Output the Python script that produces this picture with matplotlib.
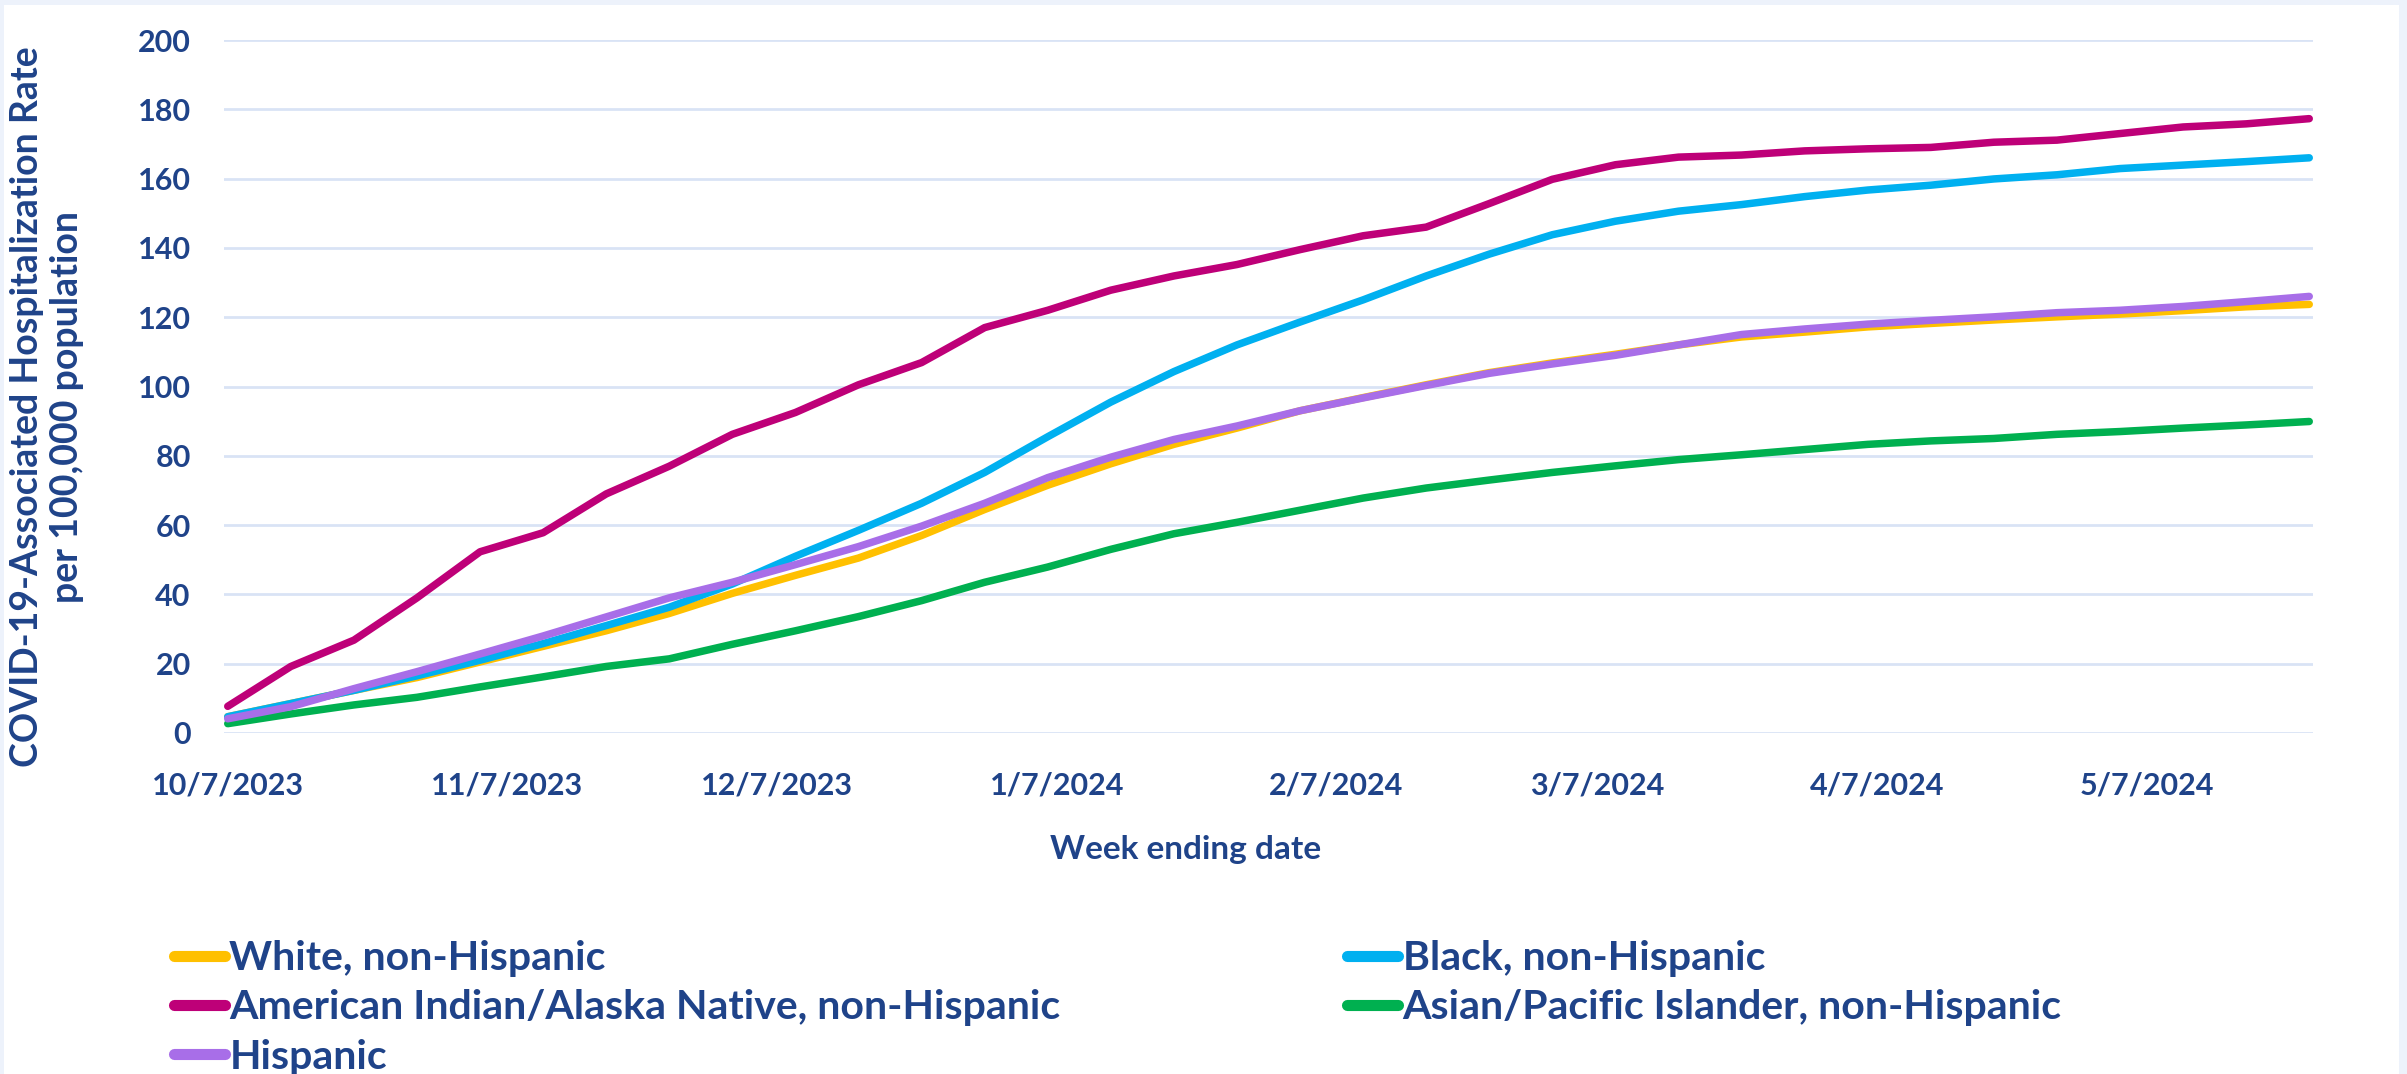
import matplotlib
matplotlib.use("Agg")
import matplotlib.pyplot as plt
import matplotlib.patches as mpatches
import pandas as pd

plt.rcParams['font.family'] = ['Lato', 'DejaVu Sans']
plt.rcParams['font.weight'] = 'bold'

start_date = "2023-10-07"
n_weeks = 34

white = [4.7, 8.5, 12.3, 16.0, 20.5, 25.0, 29.5, 34.5, 40.3, 45.5, 50.5, 57.0, 64.5, 71.5, 77.7, 83.3,
         88.0, 93.0, 96.8, 100.5, 104.0, 106.8, 109.3, 112.0, 114.3, 115.7, 117.2, 118.2, 119.2, 120.1,
         120.9, 121.9, 123.0, 123.7]
black = [4.7, 8.5, 12.3, 16.5, 21.0, 25.8, 31.0, 36.3, 43.0, 51.0, 58.5, 66.3, 75.2, 85.5, 95.5, 104.3,
         112.0, 118.6, 125.0, 131.9, 138.2, 143.8, 147.7, 150.6, 152.5, 154.8, 156.7, 158.1, 159.9, 161.1,
         162.9, 163.9, 164.9, 166.0]
aian = [7.7, 19.2, 26.8, 39.0, 52.3, 57.8, 69.0, 77.0, 86.2, 92.5, 100.5, 106.9, 117.0, 122.0, 127.8,
        131.9, 135.2, 139.5, 143.5, 146.0, 152.8, 159.8, 164.0, 166.2, 166.8, 168.0, 168.6, 169.0, 170.5,
        171.1, 173.0, 174.9, 175.8, 177.3]
api = [2.7, 5.5, 8.1, 10.3, 13.3, 16.2, 19.2, 21.4, 25.6, 29.5, 33.6, 38.2, 43.5, 47.9, 53.0, 57.5, 60.8,
       64.3, 67.8, 70.7, 73.0, 75.2, 77.1, 78.9, 80.3, 81.8, 83.3, 84.3, 85.0, 86.2, 87.0, 88.0, 88.9, 89.9]
hispanic = [4.1, 7.6, 12.8, 17.7, 22.8, 28.0, 33.5, 39.0, 43.5, 48.6, 53.8, 59.7, 66.3, 73.7, 79.6, 84.7,
            88.6, 93.0, 96.7, 100.3, 103.8, 106.5, 109.0, 112.0, 115.0, 116.6, 118.0, 119.1, 120.1, 121.3,
            122.0, 123.1, 124.5, 126.0]

series_names = ["White, non-Hispanic", "Black, non-Hispanic",
                "American Indian/Alaska Native, non-Hispanic",
                "Asian/Pacific Islander, non-Hispanic", "Hispanic"]
series_colors = ["#FFC000", "#00B0F0", "#BE0078", "#00B050", "#A86EE8"]

xtick_dates = ["2023-10-07", "2023-11-07", "2023-12-07", "2024-01-07", "2024-02-07",
               "2024-03-07", "2024-04-07", "2024-05-07"]
xtick_labels = ["10/7/2023", "11/7/2023", "12/7/2023", "1/7/2024", "2/7/2024",
                "3/7/2024", "4/7/2024", "5/7/2024"]
yticks = [0, 20, 40, 60, 80, 100, 120, 140, 160, 180, 200]

text_color = "#1F4389"
grid_color = "#D9E3F5"

dates = pd.date_range(start_date, periods=n_weeks, freq="7D")
values = [white, black, aian, api, hispanic]

W, H = 2407, 1074
fig = plt.figure(figsize=(W / 100, H / 100), dpi=100)
fig.patch.set_facecolor("#EDF2FB")
bg = mpatches.Rectangle((4 / W, 0), (2399 - 4) / W, (H - 5) / H,
                        transform=fig.transFigure, facecolor="white",
                        edgecolor="none", zorder=-10)
fig.add_artist(bg)

ax = fig.add_axes([224 / W, 1 - 733 / H, (2313 - 224) / W, (733 - 40) / H])
ax.set_facecolor("none")
ax.set_zorder(5)

lines = []
for vals, name, col in zip(values, series_names, series_colors):
    ln, = ax.plot(dates, vals, color=col, lw=5.4, label=name,
                  solid_capstyle="round", solid_joinstyle="round", zorder=3)
    lines.append(ln)

ax.set_ylim(0, 200)
ax.set_xlim(dates[0] - pd.Timedelta(hours=10), dates[-1] + pd.Timedelta(hours=10))
ax.set_yticks(yticks)
ax.set_yticklabels([str(v) for v in yticks])
ax.set_xticks(pd.to_datetime(xtick_dates))
ax.set_xticklabels(xtick_labels)
ax.grid(axis="y", color=grid_color, lw=2, zorder=1)
ax.grid(axis="x", visible=False)
for s in ax.spines.values():
    s.set_visible(False)
ax.tick_params(axis="both", length=0, colors=text_color, labelsize=22)
ax.tick_params(axis="y", pad=24)
ax.tick_params(axis="x", pad=28)
for lab in ax.get_xticklabels() + ax.get_yticklabels():
    lab.set_fontweight("bold")
    lab.set_color(text_color)

fig.text(47 / W, 1 - 407 / H, "COVID-19-Associated Hospitalization Rate\nper 100,000 population",
         rotation=90, ha="center", va="center", fontsize=27, fontweight="bold",
         color=text_color, linespacing=1.2)
fig.text(1186 / W, 1 - 850 / H, "Week ending date", ha="center", va="center",
         fontsize=24, fontweight="bold", color=text_color)

order = [0, 2, 4, 1, 3]
leg = fig.legend([lines[i] for i in order], [series_names[i] for i in order],
                 loc="upper left", bbox_to_anchor=(174 / W, 1 - 940 / H), ncol=2,
                 frameon=False, fontsize=29.5, handlelength=1.25, handletextpad=0.1,
                 columnspacing=7.0, labelspacing=0.3, borderpad=0, borderaxespad=0)
for t in leg.get_texts():
    t.set_color(text_color)
    t.set_fontweight("bold")
for h in leg.legend_handles:
    h.set_linewidth(8)
    h.set_solid_capstyle("round")

fig.savefig("out.png", dpi=100, facecolor=fig.get_facecolor())
